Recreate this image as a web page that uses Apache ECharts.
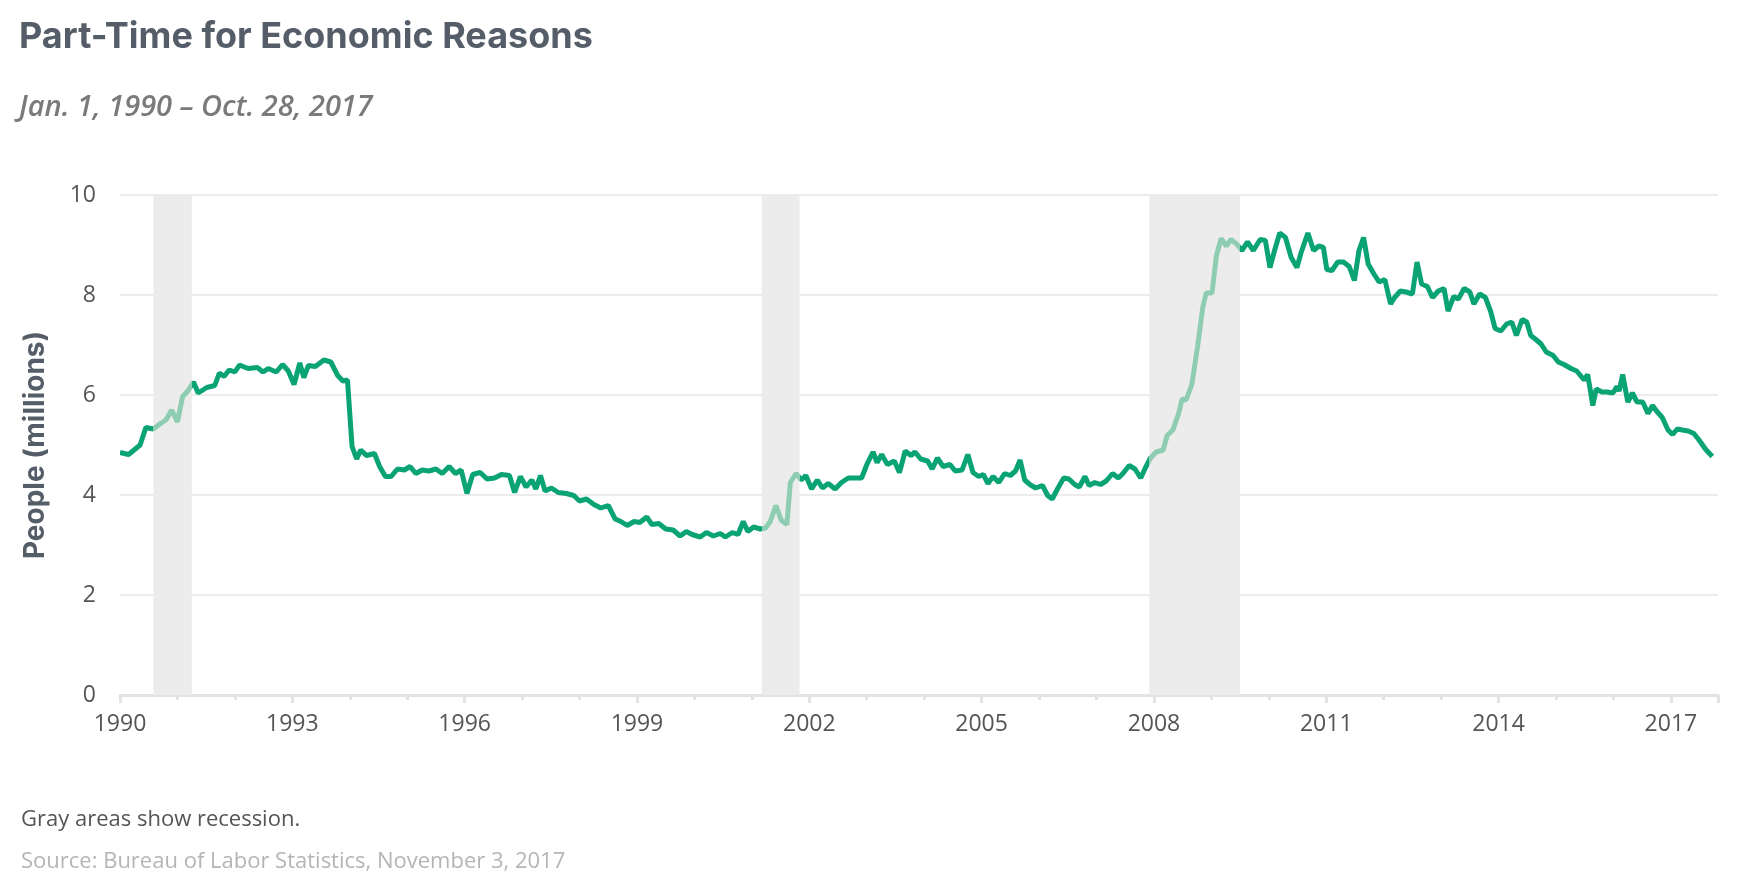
<!DOCTYPE html>
<html><head><meta charset="utf-8">
<script src="https://cdn.jsdelivr.net/npm/echarts@6/dist/echarts.min.js"></script>
<style>html,body{margin:0;padding:0;background:#fff}#c{width:1752px;height:886px}</style>
</head><body><div id="c"></div>
<script>
const years = [1990.0,1990.15,1990.35,1990.45,1990.58,1990.68,1990.8,1990.9,1991.0,1991.09,1991.18,1991.28,1991.36,1991.51,1991.65,1991.73,1991.81,1991.9,1992.0,1992.08,1992.23,1992.39,1992.49,1992.58,1992.72,1992.83,1992.93,1993.03,1993.13,1993.2,1993.28,1993.4,1993.55,1993.67,1993.79,1993.88,1993.96,1994.04,1994.12,1994.19,1994.29,1994.43,1994.52,1994.62,1994.72,1994.83,1994.95,1995.05,1995.15,1995.26,1995.38,1995.5,1995.61,1995.73,1995.84,1995.94,1996.04,1996.14,1996.27,1996.39,1996.52,1996.64,1996.78,1996.87,1996.97,1997.07,1997.17,1997.24,1997.32,1997.4,1997.51,1997.63,1997.77,1997.9,1998.0,1998.12,1998.25,1998.37,1998.5,1998.62,1998.72,1998.83,1998.95,1999.05,1999.17,1999.26,1999.38,1999.5,1999.63,1999.75,1999.86,1999.96,2000.1,2000.21,2000.33,2000.45,2000.54,2000.66,2000.76,2000.85,2000.93,2001.03,2001.15,2001.24,2001.32,2001.42,2001.51,2001.61,2001.67,2001.77,2001.86,2001.94,2002.04,2002.14,2002.23,2002.33,2002.45,2002.56,2002.68,2002.8,2002.91,2003.01,2003.11,2003.18,2003.26,2003.36,2003.48,2003.57,2003.67,2003.77,2003.84,2003.94,2004.06,2004.14,2004.23,2004.33,2004.45,2004.54,2004.66,2004.76,2004.85,2004.95,2005.03,2005.11,2005.2,2005.3,2005.4,2005.5,2005.59,2005.67,2005.75,2005.84,2005.94,2006.06,2006.15,2006.23,2006.33,2006.43,2006.52,2006.62,2006.7,2006.8,2006.87,2006.97,2007.07,2007.17,2007.28,2007.38,2007.46,2007.57,2007.67,2007.77,2007.85,2007.94,2008.04,2008.16,2008.23,2008.33,2008.43,2008.49,2008.56,2008.66,2008.76,2008.85,2008.91,2009.01,2009.09,2009.17,2009.26,2009.34,2009.44,2009.53,2009.63,2009.73,2009.85,2009.94,2010.02,2010.1,2010.19,2010.29,2010.39,2010.49,2010.56,2010.68,2010.78,2010.87,2010.95,2011.01,2011.1,2011.2,2011.3,2011.4,2011.49,2011.57,2011.65,2011.73,2011.83,2011.92,2012.02,2012.12,2012.19,2012.29,2012.39,2012.5,2012.58,2012.66,2012.76,2012.85,2012.95,2013.05,2013.12,2013.22,2013.3,2013.4,2013.5,2013.57,2013.67,2013.77,2013.86,2013.94,2014.04,2014.14,2014.23,2014.31,2014.41,2014.49,2014.56,2014.66,2014.74,2014.83,2014.95,2015.04,2015.14,2015.26,2015.36,2015.49,2015.55,2015.6,2015.64,2015.7,2015.8,2015.89,2015.99,2016.06,2016.1,2016.16,2016.25,2016.33,2016.41,2016.51,2016.6,2016.68,2016.75,2016.85,2016.95,2017.03,2017.11,2017.2,2017.3,2017.4,2017.49,2017.6,2017.72,2017.82];
const people = [4.85,4.81,5.0,5.35,5.32,5.41,5.5,5.7,5.46,5.97,6.08,6.26,6.04,6.15,6.19,6.44,6.37,6.5,6.46,6.6,6.53,6.55,6.46,6.53,6.46,6.61,6.48,6.21,6.64,6.35,6.59,6.57,6.7,6.66,6.39,6.28,6.3,4.97,4.72,4.9,4.79,4.83,4.57,4.37,4.37,4.52,4.5,4.57,4.43,4.5,4.48,4.52,4.43,4.57,4.43,4.5,4.03,4.41,4.45,4.32,4.34,4.41,4.39,4.05,4.37,4.16,4.3,4.12,4.39,4.08,4.14,4.05,4.03,3.99,3.88,3.92,3.81,3.74,3.79,3.52,3.47,3.39,3.47,3.45,3.56,3.41,3.43,3.32,3.3,3.18,3.27,3.21,3.16,3.25,3.18,3.23,3.16,3.25,3.21,3.47,3.27,3.36,3.32,3.34,3.47,3.79,3.5,3.41,4.25,4.43,4.3,4.39,4.12,4.3,4.14,4.23,4.12,4.25,4.34,4.34,4.34,4.63,4.86,4.65,4.81,4.61,4.68,4.45,4.88,4.79,4.86,4.72,4.68,4.52,4.74,4.57,4.61,4.48,4.5,4.81,4.45,4.37,4.41,4.23,4.37,4.25,4.43,4.39,4.48,4.7,4.3,4.21,4.14,4.19,3.99,3.92,4.14,4.34,4.32,4.21,4.16,4.37,4.19,4.25,4.21,4.28,4.43,4.34,4.43,4.59,4.52,4.34,4.54,4.74,4.86,4.9,5.19,5.3,5.63,5.92,5.9,6.21,6.97,7.75,8.04,8.04,8.8,9.13,8.98,9.11,9.02,8.89,9.06,8.89,9.11,9.09,8.55,8.89,9.24,9.15,8.75,8.55,8.84,9.24,8.89,8.98,8.95,8.51,8.49,8.66,8.66,8.57,8.29,8.89,9.15,8.62,8.42,8.26,8.31,7.82,7.95,8.08,8.06,8.02,8.66,8.22,8.17,7.95,8.08,8.13,7.68,7.97,7.92,8.13,8.06,7.82,8.02,7.95,7.68,7.33,7.28,7.42,7.46,7.19,7.51,7.46,7.19,7.1,7.02,6.86,6.79,6.66,6.61,6.53,6.48,6.3,6.41,6.08,5.79,6.12,6.06,6.06,6.04,6.17,6.08,6.41,5.86,6.04,5.86,5.86,5.63,5.79,5.68,5.55,5.3,5.21,5.32,5.3,5.28,5.23,5.1,4.92,4.77];
const recessions = [[1990.58,1991.25],[2001.17,2001.83],[2007.92,2009.5]];
const yTicks = [0,2,4,6,8,10];
const BASE = 1990;

const data = years.map((y,i)=>[y-BASE, people[i]]);
const pieces = [];
let prev = 0;
recessions.forEach(r=>{
  pieces.push({gte:prev, lt:r[0]-BASE, color:'#0aa373'});
  pieces.push({gte:r[0]-BASE, lt:r[1]-BASE, color:'#8fcdb3'});
  prev = r[1]-BASE;
});
pieces.push({gte:prev, color:'#0aa373'});

const chart = echarts.init(document.getElementById('c'));
chart.setOption({
  animation:false,
  textStyle:{fontFamily:'Open Sans'},
  title:[
    {text:'Part-Time for Economic Reasons', left:14, top:14, textStyle:{fontFamily:'Inter', fontSize:36, fontWeight:'bold', color:'#555e68'}},
    {text:'Jan. 1, 1990 – Oct. 28, 2017', left:14, top:88, textStyle:{fontFamily:'Open Sans', fontSize:29, fontStyle:'italic', fontWeight:'600', color:'#7a7a7a'}},
    {text:'Gray areas show recession.', left:16, top:804, textStyle:{fontFamily:'Open Sans', fontSize:22, fontWeight:'normal', color:'#555'}},
    {text:'Source: Bureau of Labor Statistics, November 3, 2017', left:16, top:846, textStyle:{fontFamily:'Open Sans', fontSize:22, fontWeight:'normal', color:'#b5b5b5'}}
  ],
  grid:{left:120, right:34, top:195, bottom:191},
  visualMap:{show:false, type:'piecewise', dimension:0, seriesIndex:0, pieces:pieces},
  xAxis:{type:'value', min:0, max:years[years.length-1]-BASE, interval:3,
    axisLine:{lineStyle:{color:'#e3e3e3', width:3}},
    axisTick:{show:true, length:8, lineStyle:{color:'#e3e3e3', width:3}},
    minorTick:{show:true, splitNumber:3, length:5, lineStyle:{color:'#e3e3e3', width:3}},
    splitLine:{show:false},
    axisLabel:{formatter:v=>String(v+BASE), fontSize:23, color:'#555', margin:18, showMaxLabel:false}
  },
  yAxis:{type:'value', min:0, max:10, interval:2,
    name:'People (millions)', nameLocation:'middle', nameGap:70,
    nameTextStyle:{fontFamily:'Inter', fontSize:28, fontWeight:'bold', color:'#555e68'},
    axisLine:{show:false}, axisTick:{show:false},
    splitLine:{lineStyle:{color:'#e6e6e6', width:1.5}},
    axisLabel:{fontSize:23, color:'#555', margin:24, formatter:v=>yTicks.includes(v)?String(v):''}
  },
  series:[
    {type:'line', data:data, showSymbol:false, lineStyle:{width:5}, z:3,
      markArea:{silent:true, itemStyle:{color:'#ececec'},
        data:recessions.map(r=>[{xAxis:r[0]-BASE},{xAxis:r[1]-BASE}])}}
  ]
});
</script></body></html>
